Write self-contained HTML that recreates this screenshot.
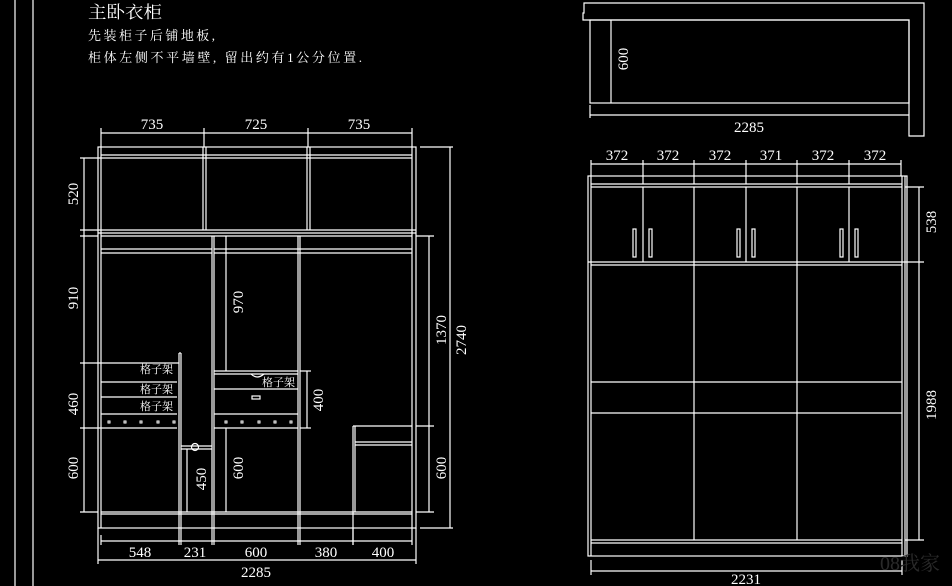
<!DOCTYPE html>
<html><head><meta charset="utf-8"><style>
html,body{margin:0;padding:0;background:#000;width:952px;height:586px;overflow:hidden}
svg{display:block}
text{fill:#fff;font-family:"Liberation Serif","Noto Serif CJK SC",serif;font-size:15px}
.c{font-family:"Liberation Serif","Noto Serif CJK SC",serif}
</style></head><body>
<svg width="952" height="586" viewBox="0 0 952 586" xmlns="http://www.w3.org/2000/svg">
<g stroke="#fff" stroke-width="1.2" fill="none">
<line x1="15" y1="0" x2="15" y2="586"/><line x1="33" y1="0" x2="33" y2="586"/>

<line x1="101" y1="133" x2="412" y2="133"/>
<line x1="101" y1="128" x2="101" y2="147"/><line x1="204" y1="128" x2="204" y2="147"/><line x1="308" y1="128" x2="308" y2="147"/><line x1="412" y1="128" x2="412" y2="147"/>
<rect x="98" y="147" width="318" height="381"/>
<line x1="101" y1="147" x2="101" y2="528"/><line x1="412" y1="147" x2="412" y2="528"/>
<line x1="101" y1="155" x2="412" y2="155"/><line x1="101" y1="158" x2="412" y2="158"/>
<line x1="203" y1="147" x2="203" y2="230"/><line x1="206" y1="147" x2="206" y2="230"/>
<line x1="307" y1="147" x2="307" y2="230"/><line x1="310" y1="147" x2="310" y2="230"/>
<line x1="98" y1="230" x2="416" y2="230"/><line x1="98" y1="233" x2="416" y2="233"/><line x1="101" y1="236" x2="412" y2="236"/>
<line x1="212" y1="236" x2="212" y2="545"/><line x1="214" y1="236" x2="214" y2="545"/>
<line x1="298" y1="236" x2="298" y2="545"/><line x1="300" y1="236" x2="300" y2="545"/>
<line x1="101" y1="249" x2="212" y2="249"/><line x1="101" y1="253" x2="212" y2="253"/>
<line x1="214" y1="249" x2="412" y2="249"/><line x1="214" y1="253" x2="412" y2="253"/>
<line x1="179" y1="353" x2="179" y2="545"/><line x1="181" y1="353" x2="181" y2="545"/><line x1="179" y1="353" x2="181" y2="353"/>
<line x1="80" y1="363" x2="179" y2="363"/><line x1="101" y1="382" x2="177" y2="382"/><line x1="101" y1="397" x2="177" y2="397"/><line x1="101" y1="414" x2="177" y2="414"/>
<line x1="80" y1="428" x2="177" y2="428"/>
<g stroke-width="1"><rect x="108" y="421" width="2" height="2"/><rect x="124" y="421" width="2" height="2"/><rect x="140" y="421" width="2" height="2"/><rect x="157" y="421" width="2" height="2"/><rect x="173" y="421" width="2" height="2"/>
<rect x="225" y="421" width="2" height="2"/><rect x="241" y="421" width="2" height="2"/><rect x="258" y="421" width="2" height="2"/><rect x="274" y="421" width="2" height="2"/><rect x="290" y="421" width="2" height="2"/></g>
<line x1="181" y1="446" x2="212" y2="446"/><line x1="181" y1="449" x2="212" y2="449"/><circle cx="195" cy="447" r="3.5"/>
<line x1="187" y1="449" x2="187" y2="512"/>
<line x1="214" y1="371" x2="298" y2="371"/><line x1="214" y1="374" x2="298" y2="374"/><line x1="214" y1="389" x2="298" y2="389"/><line x1="214" y1="414" x2="298" y2="414"/><line x1="214" y1="428" x2="298" y2="428"/>
<rect x="252" y="396" width="8" height="3"/>
<path d="M251 374 Q257 380 264 374"/>
<line x1="226" y1="236" x2="226" y2="371"/><line x1="226" y1="428" x2="226" y2="512"/>
<line x1="307" y1="371" x2="307" y2="428"/><line x1="300" y1="371" x2="311" y2="371"/><line x1="300" y1="428" x2="311" y2="428"/>
<line x1="353" y1="426" x2="353" y2="545"/><line x1="355" y1="426" x2="355" y2="512"/><line x1="353" y1="426" x2="412" y2="426"/>
<line x1="355" y1="442" x2="412" y2="442"/><line x1="355" y1="445" x2="412" y2="445"/>
<line x1="101" y1="512" x2="412" y2="512"/><line x1="101" y1="514" x2="412" y2="514"/>
<line x1="84" y1="158" x2="84" y2="512"/>
<line x1="80" y1="158" x2="101" y2="158"/><line x1="80" y1="230" x2="98" y2="230"/><line x1="80" y1="236" x2="98" y2="236"/><line x1="80" y1="512" x2="98" y2="512"/>
<line x1="429" y1="236" x2="429" y2="512"/><line x1="416" y1="236" x2="434" y2="236"/><line x1="416" y1="426" x2="434" y2="426"/><line x1="416" y1="512" x2="434" y2="512"/>
<line x1="450" y1="147" x2="450" y2="528"/><line x1="420" y1="147" x2="453" y2="147"/><line x1="420" y1="528" x2="453" y2="528"/>
<line x1="101" y1="541" x2="412" y2="541"/>
<line x1="101" y1="535" x2="101" y2="545"/><line x1="353" y1="528" x2="353" y2="545"/><line x1="412" y1="528" x2="412" y2="545"/>
<line x1="98" y1="560" x2="416" y2="560"/><line x1="98" y1="528" x2="98" y2="564"/><line x1="416" y1="528" x2="416" y2="564"/>

<path d="M584 3 L924 3 L924 136 L909 136 L909 20 L583 20 L583 13 L584 13 Z"/>
<rect x="590" y="20" width="319" height="83"/>
<line x1="611" y1="20" x2="611" y2="103"/>
<line x1="590" y1="115" x2="909" y2="115"/><line x1="590" y1="105" x2="590" y2="118"/>

<line x1="591" y1="164" x2="901" y2="164"/>
<line x1="591" y1="160" x2="591" y2="176"/><line x1="643" y1="160" x2="643" y2="184"/><line x1="694" y1="160" x2="694" y2="184"/><line x1="746" y1="160" x2="746" y2="184"/><line x1="797" y1="160" x2="797" y2="184"/><line x1="849" y1="160" x2="849" y2="184"/><line x1="901" y1="160" x2="901" y2="176"/>
<rect x="588" y="176" width="319" height="380"/>
<line x1="591" y1="176" x2="591" y2="556"/><line x1="902" y1="176" x2="902" y2="556"/><line x1="905" y1="176" x2="905" y2="556"/>
<line x1="591" y1="184" x2="902" y2="184"/><line x1="591" y1="187" x2="902" y2="187"/>
<line x1="643" y1="187" x2="643" y2="262"/><line x1="694" y1="187" x2="694" y2="540"/><line x1="746" y1="187" x2="746" y2="262"/><line x1="797" y1="187" x2="797" y2="540"/><line x1="849" y1="187" x2="849" y2="262"/>
<line x1="588" y1="262" x2="905" y2="262"/><line x1="591" y1="265" x2="902" y2="265"/>
<line x1="591" y1="382" x2="902" y2="382"/><line x1="591" y1="413" x2="902" y2="413"/>
<line x1="591" y1="540" x2="902" y2="540"/><line x1="591" y1="543" x2="902" y2="543"/>
<rect x="633" y="229" width="3" height="28"/><rect x="649" y="229" width="3" height="28"/>
<rect x="737" y="229" width="3" height="28"/><rect x="752" y="229" width="3" height="28"/>
<rect x="840" y="229" width="3" height="28"/><rect x="855" y="229" width="3" height="28"/>
<line x1="919" y1="187" x2="919" y2="540"/><line x1="905" y1="187" x2="924" y2="187"/><line x1="905" y1="262" x2="924" y2="262"/><line x1="905" y1="540" x2="924" y2="540"/>
<line x1="591" y1="571" x2="902" y2="571"/><line x1="591" y1="560" x2="591" y2="575"/><line x1="902" y1="560" x2="902" y2="575"/>
</g>

<text class="c" x="88" y="18" style="font-size:17px" textLength="74" lengthAdjust="spacingAndGlyphs">主卧衣柜</text>
<text class="c" x="88" y="40" style="font-size:13px" textLength="127" lengthAdjust="spacing">先装柜子后铺地板,</text>
<text class="c" x="88" y="62" style="font-size:13px" textLength="274" lengthAdjust="spacing">柜体左侧不平墙壁, 留出约有1公分位置.</text>

<g text-anchor="middle">
<text x="152" y="129">735</text><text x="256" y="129">725</text><text x="359" y="129">735</text>
<text x="140" y="557">548</text><text x="195" y="557">231</text><text x="256" y="557">600</text><text x="326" y="557">380</text><text x="383" y="557">400</text>
<text x="256" y="577">2285</text>
<text x="749" y="132">2285</text>
<text x="617" y="160">372</text><text x="668" y="160">372</text><text x="720" y="160">372</text><text x="771" y="160">371</text><text x="823" y="160">372</text><text x="875" y="160">372</text>
<text x="746" y="584">2231</text>
<text transform="translate(78,194) rotate(-90)">520</text>
<text transform="translate(78,298) rotate(-90)">910</text>
<text transform="translate(78,404) rotate(-90)">460</text>
<text transform="translate(78,468) rotate(-90)">600</text>
<text transform="translate(243,302) rotate(-90)">970</text>
<text transform="translate(206,479) rotate(-90)">450</text>
<text transform="translate(243,468) rotate(-90)">600</text>
<text transform="translate(323,400) rotate(-90)">400</text>
<text transform="translate(446,330) rotate(-90)">1370</text>
<text transform="translate(466,340) rotate(-90)">2740</text>
<text transform="translate(446,468) rotate(-90)">600</text>
<text transform="translate(628,59) rotate(-90)">600</text>
<text transform="translate(936,222) rotate(-90)">538</text>
<text transform="translate(936,405) rotate(-90)">1988</text>
</g>
<text class="c" x="140" y="373" style="font-size:11px">格子架</text>
<text class="c" x="140" y="393" style="font-size:11px">格子架</text>
<text class="c" x="140" y="410" style="font-size:11px">格子架</text>
<text class="c" x="262" y="386" style="font-size:11px">格子架</text>
<text x="880" y="570" style="font-size:20px;fill:#2a2a2a">08我家</text>
</svg>
</body></html>
